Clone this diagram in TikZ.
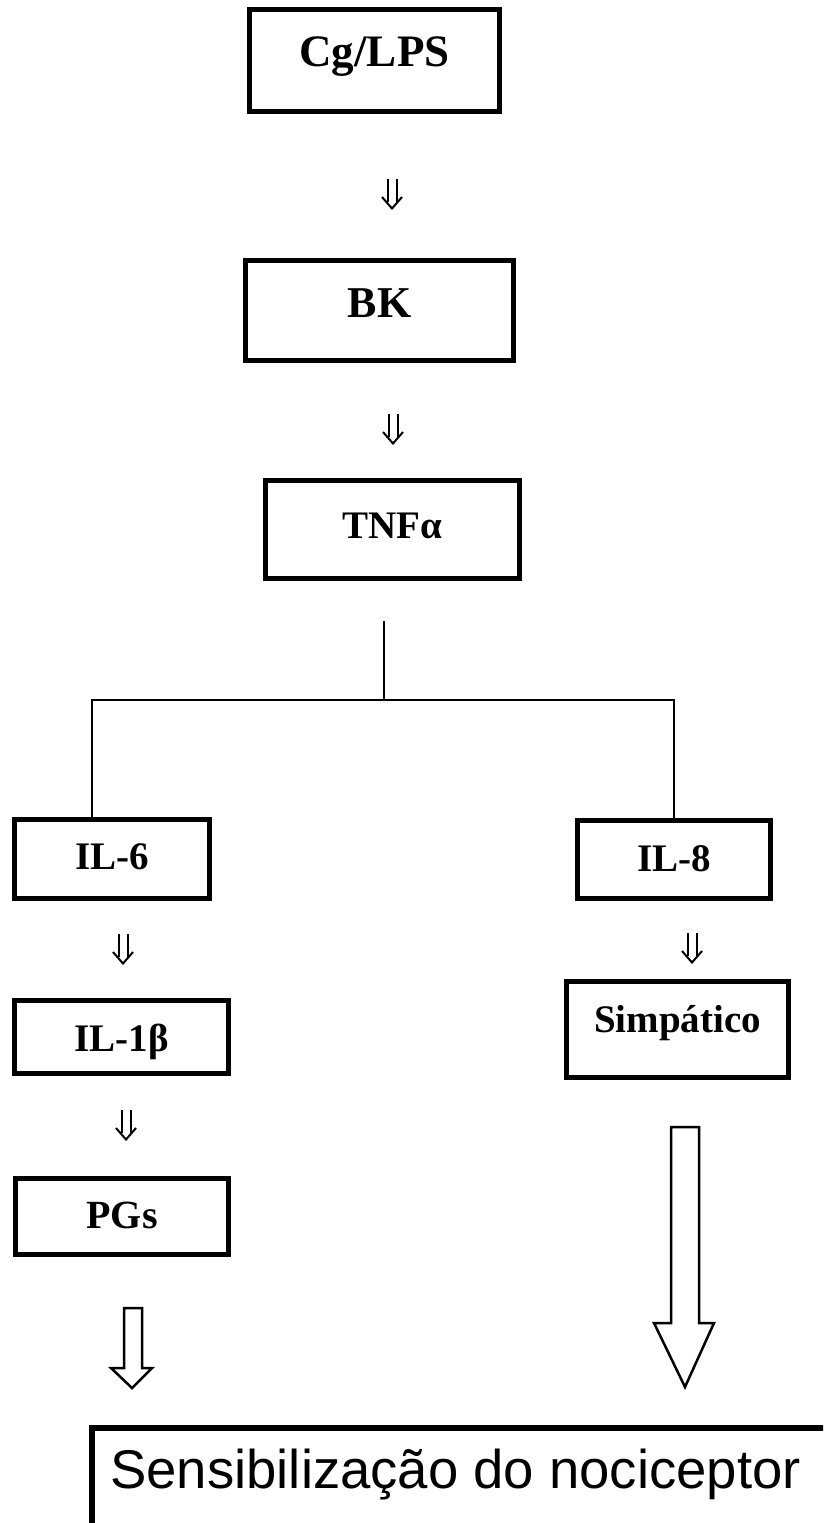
\documentclass[tikz,border=0pt]{standalone}
\usepackage{fontspec}
\setmainfont{Liberation Serif}
\newfontfamily\labelsans{Liberation Sans}
\begin{document}
\begin{tikzpicture}[x=1pt,y=-1pt,
  box/.style={draw, line width=5pt, inner sep=0pt, outer sep=0pt, anchor=north west, align=center},
  tf/.style={font=\bfseries\fontsize{#1pt}{#1pt}\selectfont},
  link/.style={line width=2pt},
  hollow/.style={line width=2.5pt, line join=miter, fill=white},
  dbarrow/.pic={
    \draw[line width=2pt] (-4.5,-15) -- (-4.5,8) (4.5,-15) -- (4.5,8);
    \draw[line width=2pt, line join=miter] (-10,3) -- (0,14.5) -- (10,3);
  }]
\useasboundingbox (0,0) rectangle (823,1523);
\clip (0,0) rectangle (823,1523);

% main cascade
\node[box, tf=45, text width=250pt, text height=57pt, text depth=45pt] (cg) at (249.5,9.5) {Cg/LPS};
\node[box, tf=44, text width=268pt, text height=57pt, text depth=43pt] (bk) at (245.5,260.5) {BK};
\node[box, tf=39, text width=254pt, text height=58pt, text depth=39.5pt] (tnf) at (265.5,480.5) {TNFα};

\pic at (392,194) {dbarrow};
\pic at (393,429) {dbarrow};

% left branch
\node[box, tf=39, text width=195pt, text height=50pt, text depth=28.5pt] (il6) at (14.5,819.5) {IL-6};
\node[box, tf=39, text width=214pt, text height=51pt, text depth=21.5pt] (il1) at (14.5,1000.5) {IL-1β};
\node[box, tf=40, text width=213pt, text height=50pt, text depth=25.5pt] (pgs) at (15.5,1178.5) {PGs};

\pic at (123,949) {dbarrow};
\pic at (126,1125) {dbarrow};

% right branch
\node[box, tf=39, text width=193pt, text height=51pt, text depth=26.5pt] (il8) at (577.5,820.5) {IL-8};
\node[box, tf=39, text width=222pt, text height=51pt, text depth=44.5pt] (simp) at (566.5,981.5) {Simpático};

\pic at (692,948) {dbarrow};

% split below TNFa
\coordinate (top) at (384,621);
\coordinate (l6) at (92,700);
\coordinate (l8) at (674,700);
\draw[link] (top) -- (top |- l6);
\draw[link] (l6 |- il6.north) -- (l6) -- (l8) -- (l8 |- il8.north);

% hollow arrows towards the nociceptor
\draw[hollow] (124,1308) -- (124,1368) -- (111,1368) -- (132,1388) -- (152,1368) -- (142,1368) -- (142,1308) -- cycle;
\draw[hollow] (671,1127) -- (671,1323) -- (654,1323) -- (685,1387) -- (714,1323) -- (699,1323) -- (699,1127) -- cycle;

% final box, running past the page edges
\draw[line width=5.5pt] (92,1560) -- (92,1428) -- (860,1428);
\node[anchor=base west, inner sep=0pt, font=\labelsans\fontsize{54.5pt}{54.5pt}\selectfont] (sens) at (110,1488)
  {Sensibilização do nociceptor};
\end{tikzpicture}
\end{document}
